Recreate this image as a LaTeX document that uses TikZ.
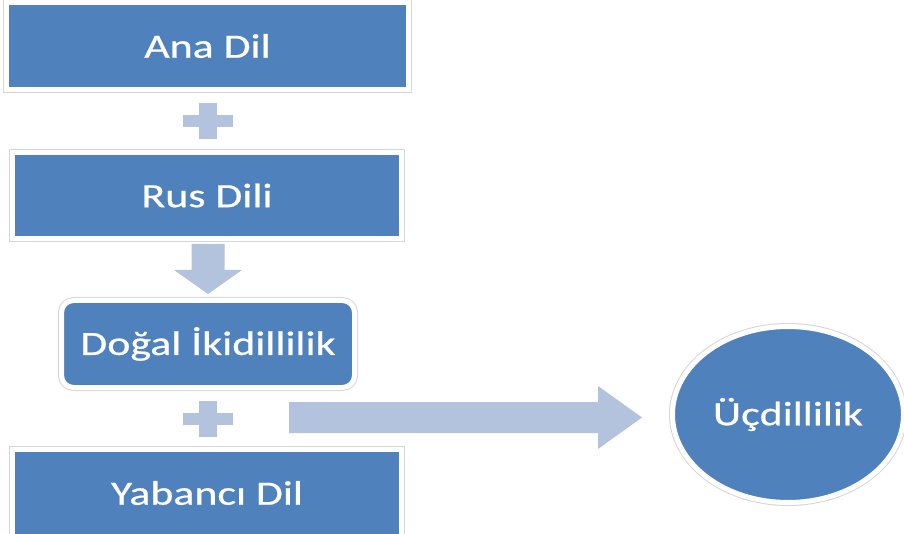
\documentclass[tikz,border=0pt]{standalone}
\usepackage{fontspec}
\newfontfamily\lblfont[FakeStretch=1.29,FakeBold=0.6]{Carlito}
\usetikzlibrary{shapes.geometric}
\definecolor{boxblue}{HTML}{4F81BD}
\definecolor{arrowblue}{HTML}{B3C3DD}
\definecolor{ringgray}{HTML}{D6D6D6}
\begin{document}
\begin{tikzpicture}[x=1pt,y=-1pt,
  ringed/.style={fill=boxblue, draw=white, line width=5pt,
    preaction={draw=ringgray, line width=7pt},
    inner sep=0pt, text=white, font=\lblfont\fontsize{34}{40}\selectfont},
  boxnode/.style={ringed, rectangle},
  roundnode/.style={ringed, rectangle, rounded corners=12pt},
  ellnode/.style={ringed, ellipse},
  shapefill/.style={fill=arrowblue, draw=none}]
\useasboundingbox (0,0) rectangle (904,534);
\fill[white] (0,0) rectangle (904,534);
\clip (0,0) rectangle (904,534);
% boxes
\node[boxnode, minimum width=402pt, minimum height=87pt] (ana) at (207.5,46) {Ana Dil};
\node[boxnode, minimum width=389pt, minimum height=86pt] (rus) at (207,195.5) {Rus Dili};
\node[roundnode, minimum width=293pt, minimum height=87pt] (dogal) at (208,344) {Doğal İkidillilik};
\node[boxnode, minimum width=389pt, minimum height=87pt] (yab) at (207,493) {Yabancı Dil};
\node[ellnode, minimum width=231pt, minimum height=176pt] (uc) at (788,414.5) {Üçdillilik};
% plus signs
\fill[shapefill] (199,103) rectangle (217,139);
\fill[shapefill] (183,115) rectangle (233,127);
\fill[shapefill] (199,400.5) rectangle (217,436.5);
\fill[shapefill] (183,412.5) rectangle (233,424.5);
% down arrow
\fill[shapefill] (191.5,244) -- (224.5,244) -- (224.5,270) -- (242,270) -- (208,294)
  -- (174,270) -- (191.5,270) -- cycle;
% right arrow
\fill[shapefill] (289,402) -- (598,402) -- (598,386) -- (642,417.5) -- (598,449)
  -- (598,433) -- (289,433) -- cycle;
\end{tikzpicture}
\end{document}
